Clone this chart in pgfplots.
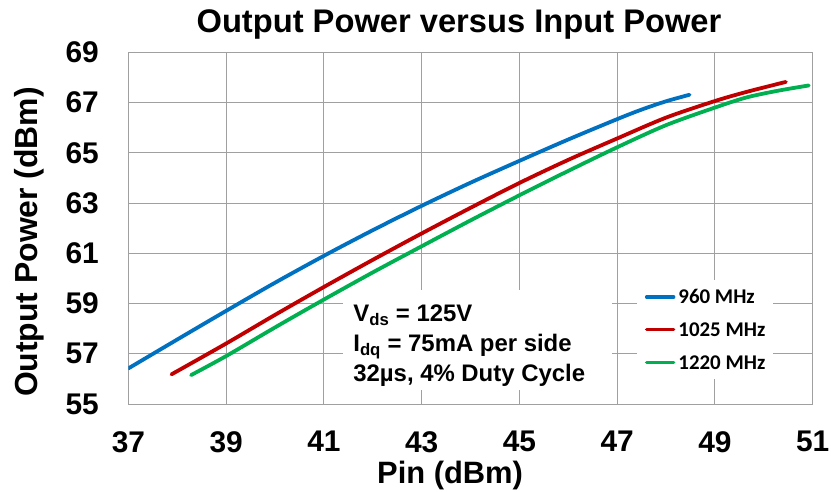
\documentclass[border=0pt]{standalone}
\usepackage{fontspec}
\setmainfont{Liberation Sans}
\newfontfamily\legfont{Carlito}
\usepackage{pgfplots}
\pgfplotsset{compat=1.18}
\definecolor{cblue}{HTML}{0070C0}
\definecolor{cred}{HTML}{C00000}
\definecolor{cgreen}{HTML}{00B050}
\definecolor{gridgray}{HTML}{A0A0A0}
\begin{document}
\begin{tikzpicture}
\useasboundingbox (-128.5bp,-88bp) rectangle (702.5bp,404bp);
\begin{axis}[
 at={(0,0)}, anchor=south west,
 scale only axis, width=684.2bp, height=351.7bp,
 xmin=37, xmax=51, ymin=55, ymax=69,
 xtick={37,39,...,51}, ytick={55,57,...,69},
 grid=major,
 major grid style={draw=gridgray, line width=1bp},
 axis line style={draw=gridgray, line width=1bp},
 major tick length=0pt,
 /pgf/number format/assume math mode=true,
 tick label style={font=\fontsize{30}{30}\selectfont\bfseries, inner sep=0pt},
 xticklabel style={anchor=north, yshift=-27bp},
 yticklabel style={anchor=east, xshift=-29.5bp},
 title={Output Power versus Input Power},
 title style={font=\fontsize{32.8}{33}\selectfont\bfseries, at={(axis description cs:0.483,1.0407)}, anchor=base, inner sep=0pt},
 xlabel={Pin (dBm)},
 xlabel style={font=\fontsize{31}{31}\selectfont\bfseries, at={(axis description cs:0.470,-0.226)}, anchor=base, inner sep=0pt},
 ylabel={Output Power (dBm)},
 ylabel style={font=\fontsize{32}{32}\selectfont\bfseries, at={(axis description cs:-0.1454,0.4606)}, anchor=center, inner sep=0pt},
 legend style={at={(axis cs:47.399,59.93)}, anchor=north west, draw=none, fill=white,
   font=\legfont\bfseries\fontsize{21}{21}\selectfont, inner xsep=8bp, inner ysep=10bp,
   row sep=19.4bp, column sep=3bp, nodes={inner sep=0pt, text height=13.3bp, text depth=0pt}},
 legend cell align=left,
 legend image code/.code={\draw[#1, line width=3.5bp, line cap=round] (0bp,0bp) -- (27bp,0bp);},
]
\fill[white] (axis cs:41.386,59.53) rectangle (axis cs:46.888,55.56);
\node[anchor=base west, inner sep=0pt, font=\fontsize{24}{24}\selectfont\bfseries] at (axis cs:41.597,58.272) {V\textsubscript{ds} = 125V};
\node[anchor=base west, inner sep=0pt, font=\fontsize{24}{24}\selectfont\bfseries] at (axis cs:41.597,57.080) {I\textsubscript{dq} = 75mA per side};
\node[anchor=base west, inner sep=0pt, font=\fontsize{24}{24}\selectfont\bfseries] at (axis cs:41.597,55.887) {32µs, 4\% Duty Cycle};
\addplot[cblue, line width=3.8bp, line cap=round, smooth] coordinates {
(37,56.42) (38,57.57) (39,58.71) (40,59.83) (41,60.90) (42,61.92) (43,62.89) (44,63.81) (45,64.68) (46,65.53) (47,66.34) (47.5,66.72) (48,67.05) (48.48,67.31)};
\addlegendentry{960 MHz}
\addplot[cred, line width=3.8bp, line cap=round, smooth] coordinates {
(37.88,56.18) (39,57.41) (40,58.55) (41,59.66) (42,60.74) (43,61.79) (44,62.81) (45,63.80) (46,64.72) (47,65.57) (48,66.40) (49,67.06) (49.64,67.42) (50.45,67.82)};
\addlegendentry{1025 MHz}
\addplot[cgreen, line width=3.8bp, line cap=round, smooth] coordinates {
(38.28,56.15) (39,56.91) (40,58.05) (41,59.16) (42,60.24) (43,61.28) (44,62.31) (45,63.31) (46,64.28) (47,65.22) (48,66.10) (49,66.80) (49.64,67.20) (50.26,67.46) (50.92,67.68)};
\addlegendentry{1220 MHz}
\end{axis}
\end{tikzpicture}
\end{document}
